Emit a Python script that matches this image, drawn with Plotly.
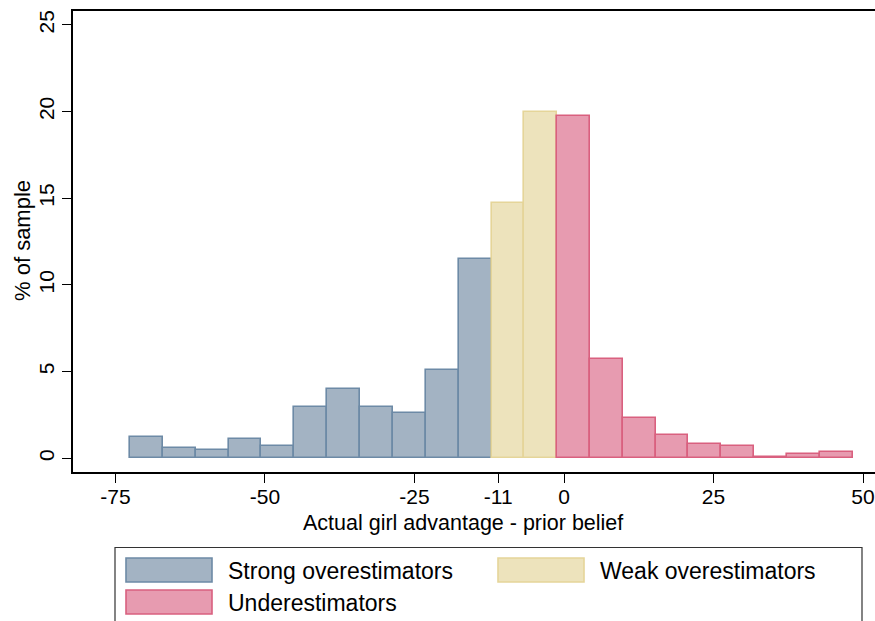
import plotly.graph_objects as go

# Bin edges (x units)
bin_edges = [-72.6, -67.1, -61.6, -56.1, -50.6, -45.1, -39.6, -34.1, -28.6, -23.1,
             -17.6, -12.1, -6.7, -1.2, 4.3, 9.8, 15.3, 20.8, 26.3, 31.8, 37.3, 42.8, 48.3]
# % of sample per bin
pct = [1.25, 0.59, 0.46, 1.11, 0.71, 2.98, 3.98, 2.98, 2.61, 5.09, 11.48,
       14.73, 19.98,
       19.75, 5.73, 2.34, 1.34, 0.84, 0.73, 0.10, 0.23, 0.35]
groups = (["Strong overestimators"] * 11 + ["Weak overestimators"] * 2 + ["Underestimators"] * 9)

x_ticks = [-75, -50, -25, -11, 0, 25, 50]
y_ticks = [0, 5, 10, 15, 20, 25]

styles = {
    "Strong overestimators": ("#a3b3c3", "#6d8aa6"),
    "Weak overestimators": ("#ede3bc", "#e5d599"),
    "Underestimators": ("#e79bb0", "#d9607f"),
}

FONT = "Liberation Sans, Arial, Helvetica, sans-serif"

FIG_W, FIG_H = 875, 621
L, T, BOT = 73, 11, 472  # plot-area edges in pixels

fig = go.Figure()
for name, (fill, line) in styles.items():
    idx = [i for i, g in enumerate(groups) if g == name]
    xs = [(bin_edges[i] + bin_edges[i + 1]) / 2 for i in idx]
    ws = [bin_edges[i + 1] - bin_edges[i] for i in idx]
    ys = [pct[i] for i in idx]
    fig.add_trace(go.Bar(x=xs, y=ys, width=ws, name=name, showlegend=False,
                         marker=dict(color=fill, line=dict(color=line, width=1.6))))

fig.update_layout(
    width=FIG_W, height=FIG_H,
    margin=dict(l=L, r=0, t=T, b=FIG_H - BOT),
    paper_bgcolor="white", plot_bgcolor="white",
    font=dict(family=FONT, size=21, color="black"),
    bargap=0,
    xaxis=dict(range=[-82.1, 52.0], tickvals=x_ticks, ticktext=[str(v) for v in x_ticks],
               showline=True, linecolor="black", linewidth=1.5, mirror=True,
               ticks="outside", ticklen=9, tickwidth=1.2, tickcolor="black",
               showgrid=False, zeroline=False, tickfont=dict(size=21),
               ticklabeloverflow="allow", ticklabelstandoff=-4),
    yaxis=dict(range=[-0.79, 25.8], tickvals=y_ticks, ticktext=[str(v) for v in y_ticks],
               showline=True, linecolor="black", linewidth=1.5, mirror=False,
               ticks="outside", ticklen=9, tickwidth=1.2, tickcolor="black",
               showgrid=False, zeroline=False, tickangle=-90, tickfont=dict(size=21)),
)

W, H = FIG_W - L, BOT - T
def px(x):
    return (x - L) / W
def py(y):
    return (BOT - y) / H

# axis titles
fig.add_annotation(text="Actual girl advantage - prior belief", x=px(463),
                   xref="paper", y=py(523), yref="paper", showarrow=False,
                   font=dict(size=21.5), xanchor="center", yanchor="middle")
fig.add_annotation(text="% of sample", x=px(22), xref="paper", y=py(241), yref="paper",
                   showarrow=False, textangle=-90, font=dict(size=22),
                   xanchor="center", yanchor="middle")

# Custom legend (box, swatches, labels)
fig.add_shape(type="rect", xref="paper", yref="paper", x0=px(115), x1=px(862),
              y0=py(630), y1=py(547.5), line=dict(color="#333333", width=1.2),
              fillcolor="white", layer="above")
legend_items = [("Strong overestimators", 126, 558), ("Weak overestimators", 498, 558),
                ("Underestimators", 126, 590)]
for name, lx, ly in legend_items:
    fill, line = styles[name]
    fig.add_shape(type="rect", xref="paper", yref="paper", x0=px(lx), x1=px(lx + 86),
                  y0=py(ly + 24), y1=py(ly), line=dict(color=line, width=1.6),
                  fillcolor=fill, layer="above")
    fig.add_annotation(text=name, xref="paper", yref="paper", x=px(lx + 100), y=py(ly + 13),
                       xanchor="left", yanchor="middle", showarrow=False, font=dict(size=23))

fig.write_html("out.html", config={"displayModeBar": False},
               post_script="document.body.style.margin='0';document.body.style.overflow='hidden';")
